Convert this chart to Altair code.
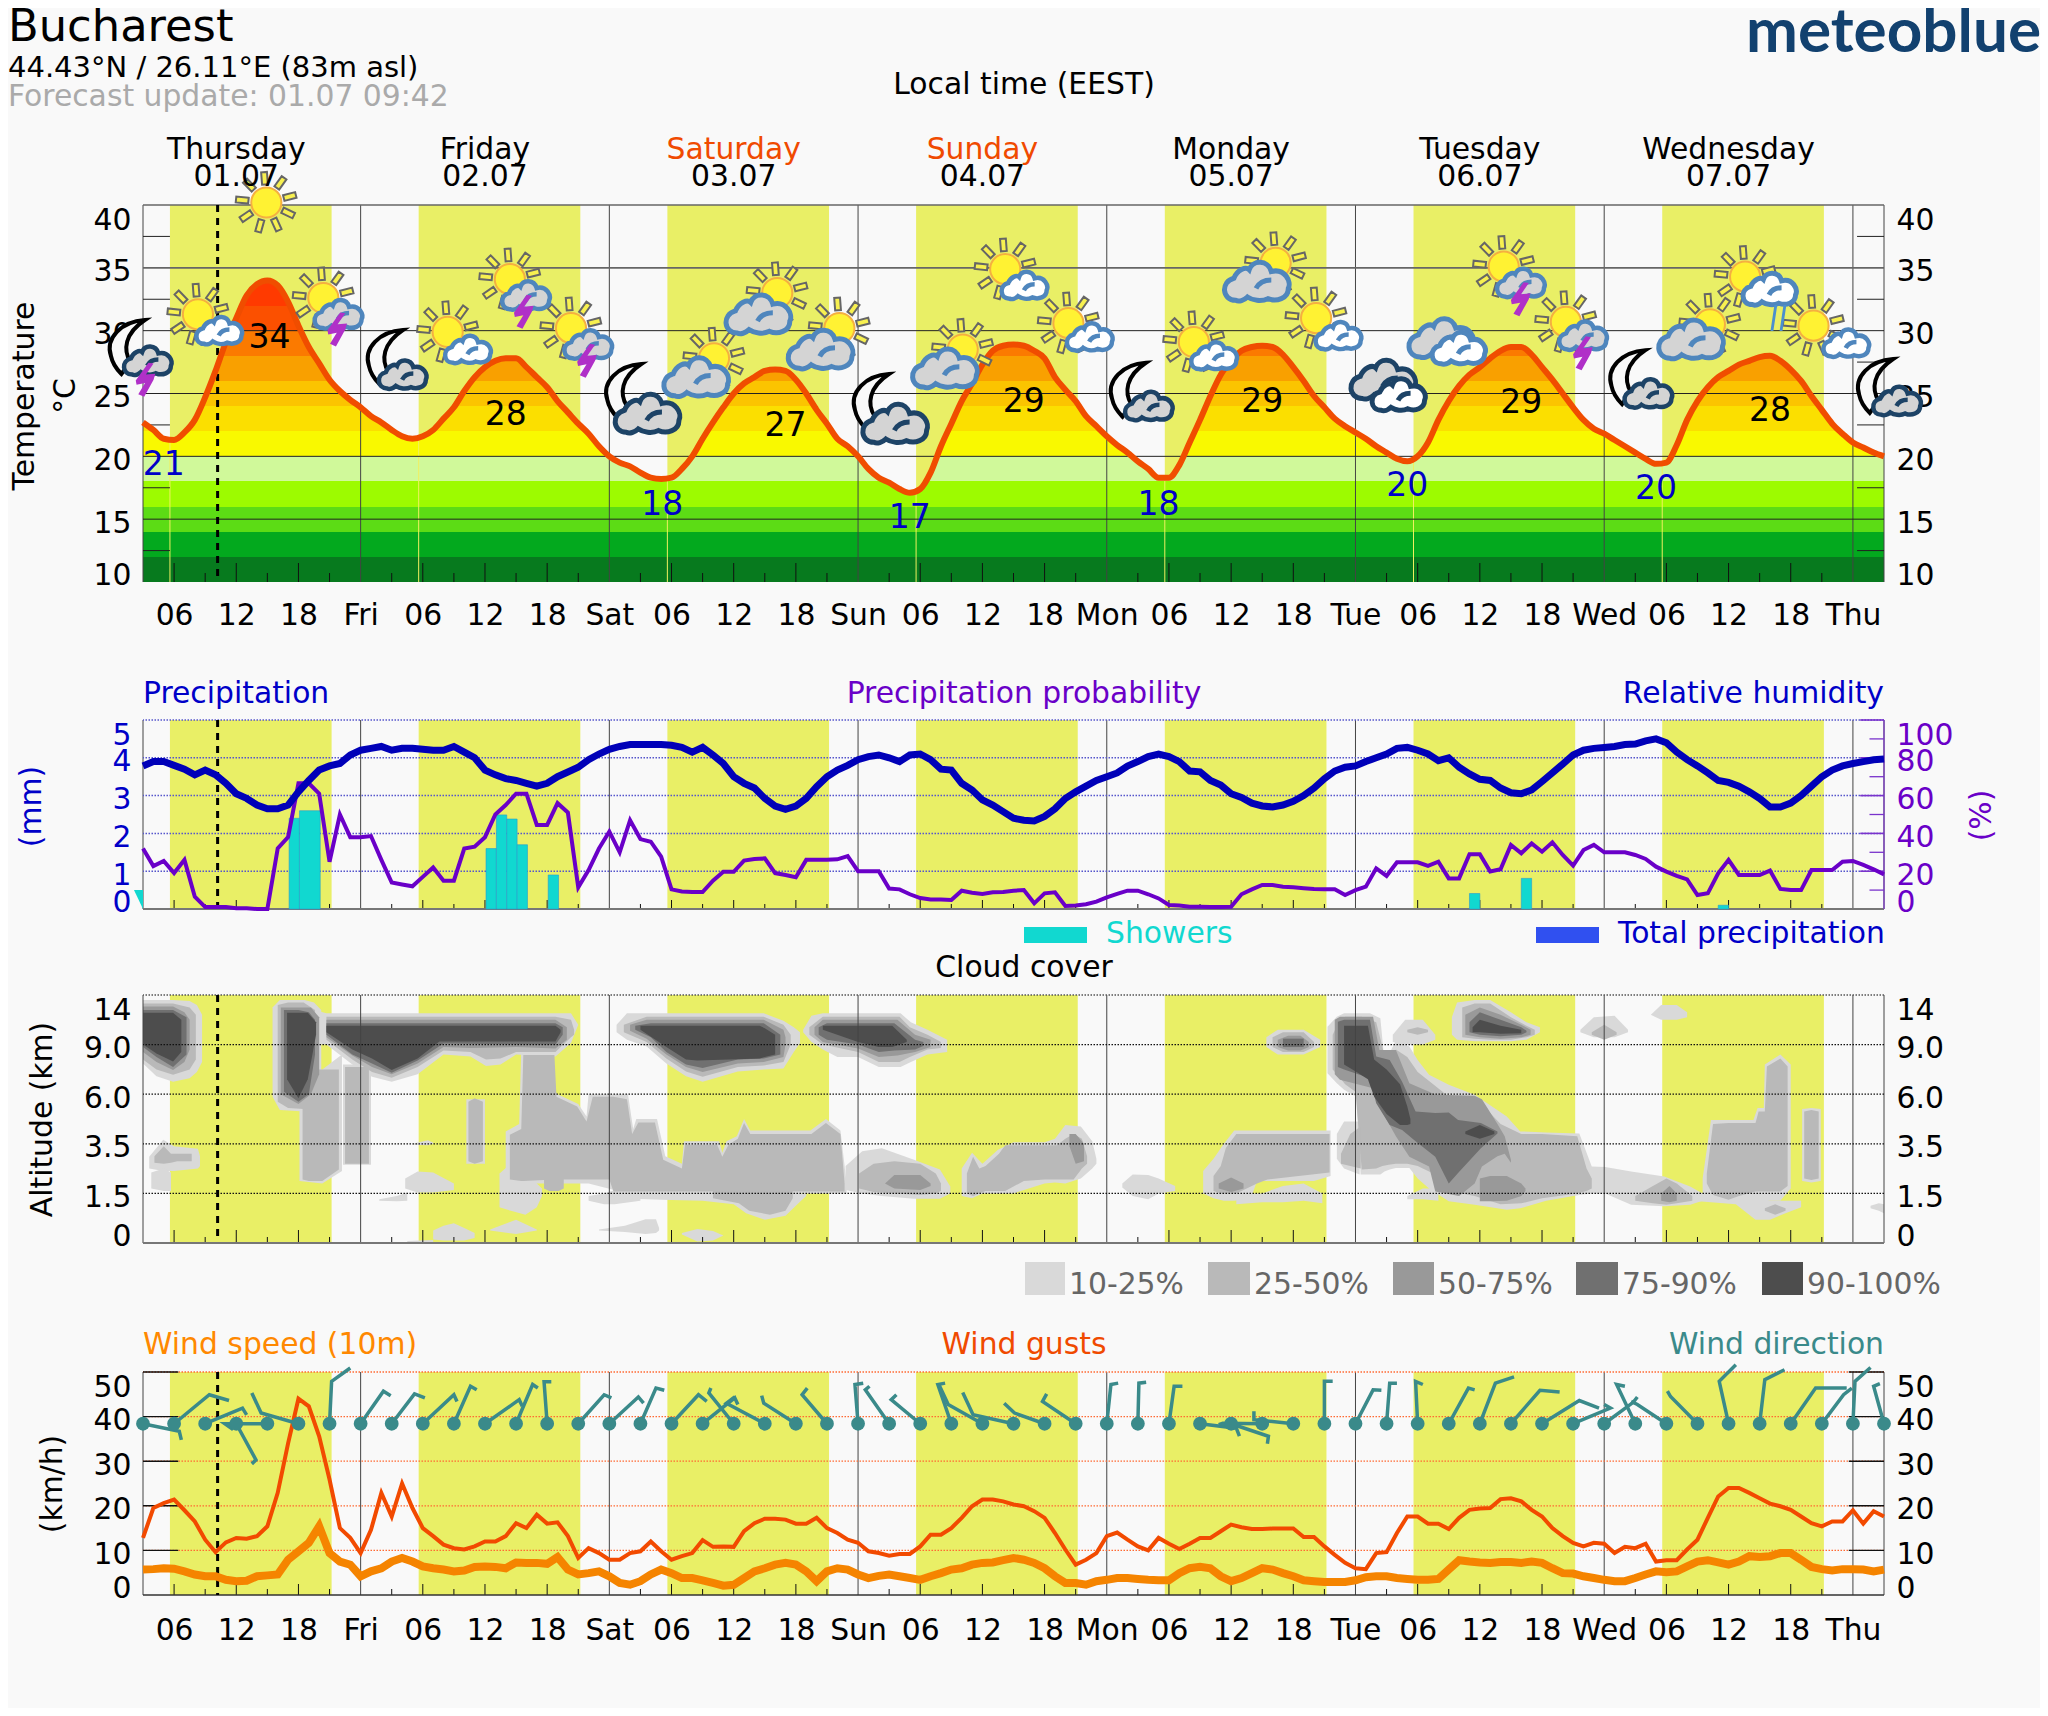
import math
import altair as alt
import pandas as pd

FONT = "DejaVu Sans"
BG = "#f9f9f9"
W = 1741
TS = 29.8
HOURS = list(range(3, 172))

temperature = [
 22.7,22.1,21.4,21.3,21.9,22.9,24.7,26.8,29.1,31,
 32.8,33.7,34,33.6,32.3,30.4,28.7,27.4,26.1,25.2,
 24.5,23.9,23.2,22.7,22.1,21.6,21.4,21.6,22.1,23,
 23.9,25.2,26.3,27.1,27.6,27.8,27.8,27.1,26.3,25.5,
 24.4,23.5,22.6,21.8,20.8,20,19.5,19.2,18.7,18.3,
 18.2,18.3,19,20,21.4,22.7,23.9,25,25.8,26.3,
 26.8,26.9,26.8,26.1,25,23.7,22.6,21.4,20.8,20,
 19,18.3,17.9,17.4,17.1,17.4,18.7,20.8,22.6,24.4,
 25.8,27.3,28.4,28.8,28.9,28.8,28.4,27.8,26.3,25.3,
 24.4,23.2,22.4,21.6,20.9,20.3,19.6,19,18.3,18.3,
 19.3,21.1,22.9,24.8,26.5,27.6,28.4,28.7,28.8,28.7,
 28.1,27.1,26,24.8,23.9,23,22.4,21.9,21.4,20.8,
 20.3,19.8,19.6,20,21.1,22.9,24.4,25.6,26.5,27.1,
 27.8,28.4,28.7,28.7,28.1,27.1,26.1,25,23.9,22.9,
 22.2,21.8,21.3,20.8,20.3,19.8,19.4,19.5,20.9,22.9,
 24.4,25.5,26.3,26.8,27.3,27.6,27.9,28,27.6,26.9,
 26,24.8,23.7,22.6,21.8,21.1,20.7,20.3,20]
humidity = [
 75.7,78,78,76,74,71,73.5,71,66.5,61,
 58.5,55,53,53,55,62,68,73.5,75.7,77,
 81.5,84,85,86,84,85,85,84.5,84,84,
 86,83,80,73.5,71,69,68,66.5,65,66.5,
 70,72.5,75,79,82,84.5,86,87,87,87,
 87,86.6,85.5,83,85.5,81.5,77,70,66.5,64,
 58.5,54.5,52.7,54.5,58.5,64.7,70,73.5,76,79,
 80.6,81.5,80,78,81.5,82,79,74,73.5,66.5,
 63,57.7,55,51.5,48,47,46.6,49,53,58.5,
 62,65,68,70,72,75.6,78,80.6,82,80.6,
 78,73,72.6,68,65.6,61,59,56,54.5,54,
 55,57,60,64,69,73,75,75.7,78,80,
 82,85,85.5,84,82,78.5,80,75,71.5,68.6,
 68,64,61.5,61,63,67.4,72,76.7,81.5,84,
 85,85.5,86,87,87.3,89,90,88,83,79,
 75.7,72,68,67,65,62,58.5,54,54,56,
 60,65,70,73.5,75.7,77,78,79,79.4]
probability = [
 32,22.7,25.4,19,26,6.5,1,1,1,0.4,
 0.4,0,0,32,38,66.5,66.5,61,25,50,
 38,38,38.6,26,14,13,12,17,22,15,
 15,32,33,38,50,55,61,61,44.5,44.5,
 56,51,11.5,20.6,32,41,30,47,37,35.6,
 27.7,10.4,9.3,9,9,15,19.7,19.7,25.6,26.5,
 26.8,19,18,16.8,26,26,26,26.3,28,20,
 20,20,10.8,10.4,7.8,5.8,5,5,4.8,9.7,
 8.6,8,8.8,9,9.7,10,3,8.3,8.8,1.6,
 1.8,2.5,3.9,6.2,8,9.7,9.7,7.8,5.6,2.1,
 1.8,1.2,1.2,1,1,1.2,7.8,10.4,12.7,12.7,
 11.8,11.5,11,10.6,10.4,10.4,7.4,10,11.8,21.5,
 17.5,24.7,24.7,24.7,22.8,25,16.2,16.2,29,29,
 19.8,21,33.9,29.5,34.7,30.3,35.3,28.6,23,31.2,
 33.9,30,30,30,28.6,26.5,22.4,19.8,17.5,15.7,
 7.4,8.3,18.9,26,18,18,18,20.3,10.6,10,
 10,20.6,20.6,20.6,25,25.4,23.3,21,18.3]
gusts = [
 12.8,19.5,20.6,21.4,19,16.5,12.4,9.6,11.8,12.8,
 12.6,13.2,15.4,22.9,34,44,42.3,35.6,25.9,15,
 12.8,9.4,14.6,22.9,17.6,25,19.5,15,13.2,11.3,
 10.5,10.2,10.9,12,12,13.2,16.1,15,18,16,
 16.3,13.2,8.3,10.5,9.4,7.9,7.9,9.4,9.8,12,
 9.8,7.9,8.7,9.4,12.3,10.8,10.9,10.8,14.3,16.1,
 17.1,17.1,16.9,16,16,17.3,15,13.9,12.4,11.7,
 9.8,9.4,8.8,9.2,9.2,10.9,13.5,13.5,15,17.3,
 19.9,21.4,21.4,21,20.3,19.9,18.8,17.3,13.9,10.2,
 6.8,7.9,9.4,13.2,14,12.4,10.9,10,12.8,11.5,
 10.3,11.5,12.8,12.8,14.3,15.8,15.2,14.8,14.8,14.9,
 14.9,14.9,13,13,10.9,9,7.2,6,5.8,9.4,
 9.6,13.9,17.6,17.6,16,16,14.8,17.3,19.1,19.4,
 19.5,21.5,21.7,21,19.1,17.6,15,13.2,11.7,10.9,
 11.7,11.5,9.4,10.8,10.5,11.5,7.5,7.8,7.8,10.2,
 12.4,17.3,22.1,24,24,22.9,21.7,20.5,19.9,19.1,
 17.6,16.1,15.4,16.5,16.5,19,16,18.8,17.6]
speed = [
 5.7,5.8,6,5.9,5.3,4.6,4.2,4.2,3.4,3.1,
 3.2,4.2,4.4,4.6,7.9,9.8,11.7,15.4,9.4,7.5,
 6.8,4.2,5.3,6,7.5,8.3,7.5,6.4,6,5.7,
 5.3,5.5,6.3,6.4,6.3,6,7.3,7.2,7.2,7,
 8.5,5.7,4.6,4.9,5.3,4.2,2.7,2.3,3.1,4.6,
 5.7,4.9,3.8,3.8,3.3,2.7,2.1,2.3,3.8,5.3,
 6,6.8,7.2,6.8,5.3,3.1,5.3,6,5.7,4.6,
 3.8,4.3,4.6,4.2,3.8,3.4,4.2,4.9,5.7,6,
 6.8,7.2,7.3,7.8,8.3,7.9,7.2,6,4.2,2.7,
 2.7,2.3,3.1,3.4,3.8,3.8,3.6,3.4,3.3,3.3,
 4.9,6,6.3,6,4.2,3.1,3.8,4.9,6,5.7,
 4.9,4.2,3.3,3.1,2.9,2.9,2.9,3.3,4,4.2,
 4.2,3.8,3.6,3.4,3.4,3.6,5.7,7.8,7.5,7.3,
 7.2,7.4,7.4,7.2,7.5,7.2,6,4.9,4.8,4.2,
 3.8,3.4,3.1,3.1,3.8,4.6,5.3,5.1,5.3,6.4,
 7.5,7.8,7.3,6.8,7.5,8.7,8.5,8.7,9.4,9.4,
 7.9,6.3,5.8,5.5,5.8,5.8,5.7,5.3,5.7]

# showers: start hour, end hour, mm
shower_start = [17.1,18.1,36.1,37.1,38.1,39.1,42.1,131,136,155]
shower_end   = [18.1,20.1,37.1,38.1,39.1,40.1,43.1,132,137,156]
shower_mm    = [2.4,2.6,1.6,2.49,2.38,1.7,0.9,0.41,0.81,0.1]

day_names = ["Thursday","Friday","Saturday","Sunday","Monday","Tuesday","Wednesday"]
day_dates = ["01.07","02.07","03.07","04.07","05.07","06.07","07.07"]
weekend = ["Saturday","Sunday"]
day_start = [5.6,29.6,53.6,77.6,101.6,125.6,149.6]
day_end = [21.2,45.2,69.2,93.2,117.2,141.2,165.2]
sunrise_temp = [21.3,21.5,18.3,17.2,18.3,19.9,19.5]
midnights = [24,48,72,96,120,144,168]
NOW = 10.2

max_h = [15.2,38,65,88,111,136,160]
max_t = [29.4,23.3,22.4,24.3,24.35,24.25,23.6]
max_lab = ["34","28","27","29","29","29","28"]
min_h = [5,53.1,77,101,125,149]
min_t = [19.3,16.1,15.1,16.1,17.6,17.4]
min_lab = ["21","18","17","18","20","20"]

sun_pos = [(8.3,31.3),(14.9,40.2),(20.4,32.6),(32.4,29.9),(38.4,34.1),(44.3,30.2),(58.1,27.8),(64.2,33),(70.2,30.2),
 (82.1,28.5),(86.2,34.9),(92.3,30.6),(104.4,29.1),(112.3,35.4),(116.2,31),(134.3,35.1),(140.3,30.7),(154.2,30.5),
 (157.6,34.3),(164.2,30.4)]
moon_pos = [(1.5,28.7),(26.4,27.9),(49.4,25.2),(73.3,24.4),(98.1,25.3),(146.3,26.3),(170.2,25.6)]
cloud_storm = [(21.8,31.3),(39.9,32.8),(45.9,28.9),(135.9,33.8),(141.9,29.6)]
cloud_night = [(3.4,27.6),(28,26.5),(100,24),(148.2,25),(172.2,24.4)]
cloud_night_big = [(51.6,23.4),(75.5,22.6),(122.6,26.1)]
cloud_day_big = [(56.3,26.3),(62.3,31.3),(68.3,28.5),(80.3,27),(110.4,33.9),(128.2,29.4),(152.3,29.3)]
cloud_white = [(10.3,30),(34.3,28.5),(88,33.6),(94.3,29.5),(106.3,28),(118.3,29.6),(167.3,29)]
cloud_white_big = [(159.9,33.3),(129.9,28.6)]
cloud_white_dark = [(124.1,24.9)]
bolts = [(3.2,26.1),(21.7,30.1),(39.7,31.5),(45.8,27.6),(135.9,32.5),(141.9,28.2)]
rain = [(160.8,31)]

# wind barbs: origin hour, staff tip (hour, level), feather end (hour, level)
BARB_LEVEL = 38.4
barbs = [
 (3,6.5,36.7,6.7,34.8),(6,9.4,44.9,11.3,43.6),(9,12.6,41.9,13,40.4),(12,13.9,30.3,13.5,29.4),
 (15,10.9,38.4,11.7,37.1),(18,14.4,40.8,13.5,45.3),(21,21.2,47.9,23,50.9),(24,26.2,45.7,26.9,44.7),
 (27,29.2,45.1,30.2,44.2),(30,33,44.9,33.3,43.4),(33,34.6,46.8,35.2,46),(36,39.3,43.8,39.6,42.3),
 (39,40.6,47.2,41.1,46.4),(42,41.7,47.8,42.4,47.8),(45,47.5,44.9,48.2,44.2),(48,50.8,44.4,51.3,43),
 (51,52.5,46.4,53.3,45.9),(54,56.6,44.9,57.4,43.4),(57,60.1,44.2,60.4,42.7),(60,57.6,45.3,57.8,46.4),
 (63,59.3,43,60.1,44.4),(66,62.9,43,62.7,44.7),(69,66.6,44.9,67.1,46.4),(72,71.7,47.2,72.5,47.5),
 (75,72.7,46,73.1,46.8),(78,75.2,43.8,75.7,44.9),(81,79.7,47.2,80.4,47.5),(84,80.7,42.7,79.8,47.2),
 (87,83.1,40.4,82.1,45.4),(90,87.1,40.8,86.1,43),(93,89.8,43.4,90.2,45.1),(96,96.4,47.2,97.1,47.5),
 (99,99.1,47.5,99.8,47.7),(102,102.5,46.8,103.3,46.8),(105,108.5,37.4,108.8,35.6),(108,111.6,35.6,111.5,33.9),
 (111,107.2,38.5,106.8,38.2),(114,110.2,39.3,110.2,41.2),(117,117,47.9,117.8,47.9),(120,121.7,46,122.5,45.9),
 (123,123.3,47.5,124,47.5),(126,125.8,47.9,126.5,47.2),(129,130.9,46.4,131.5,46),(132,133.5,47.5,135.3,48.9),
 (135,137.8,45.9,139.7,45.5),(138,141.6,43.6,143.5,41.9),(141,144.6,41.9,144,42.7),(144,146.8,43.2,147.2,44.4),
 (147,145.2,47.2,146,46.8),(150,147.2,42.7,146.6,43.4),(153,150.4,44.5,150.1,45.7),(156,155.1,47.9,156.7,51.6),
 (159,159.5,48.3,161.4,50.5),(162,164.4,46.4,167.4,46.4),(165,167.1,44.9,167.9,46.4),(168,168.2,47.9,169.7,51),
 (171,170,46.8,170.6,47.4)]

# cloud cover outlines: (hour, upper level, lower level); levels 0..5 are the six axis labels
cloud_10_25 = [
 [(3,4.9,3.62),(4.3,4.9,3.36),(5.9,4.9,3.25),(7.5,4.88,3.32),(8.2,4.8,3.45),(8.7,4.6,3.65)],
 [(15.5,4.75,2.95),(16.2,4.9,2.68),(18.6,4.9,2.65),(19.5,4.85,2.8),(20.2,4.7,3.3)],
 [(18.1,3.5,1.25),(20.3,3.5,1.2),(22.2,3.8,1.45)],
 [(19.5,4.7,4.0),(20.7,4.63,4.0),(23.2,4.63,3.6),(25.1,4.63,3.35),(27,4.63,3.25),(29.5,4.63,3.4),(32,4.63,3.8),(34.6,4.63,3.76),(36.1,4.63,3.57),(37.5,4.63,3.6),(39,4.63,3.8),(42.8,4.63,3.76),(44.3,4.63,4.03),(45,4.4,4.4)],
 [(22.3,3.6,1.58),(25,3.6,1.58)],
 [(3.6,1.74,1.5),(4.95,2.08,1.45),(6,1.95,1.45),(8.3,1.9,1.5),(8.5,1.75,1.55)],
 [(3.8,1.42,1.1),(5,1.5,1.05),(5.7,1.42,1.05)],
 [(28.3,1.3,1.1),(29.5,1.44,1.02),(31,1.42,1.02),(33,1.2,1.07)],
 [(25.8,0.88,0.85),(27.5,0.95,0.84),(28.5,1.02,0.85)],
 [(29,2,1.98),(30.5,2.07,1.97),(31,2.02,2)],
 [(37.4,1.4,0.72),(38.5,1.6,0.65),(39.9,1.5,0.57),(41,1.2,0.72),(41.5,1.1,0.95)],
 [(31,0.25,0.07),(32,0.35,0.05),(33,0.4,0.05),(34,0.3,0.05),(35,0.2,0.1)],
 [(28.5,0.04,0),(31,0.06,0)],
 [(36.5,0.27,0.25),(39,0.47,0.18),(41,0.27,0.25)],
 [(47,0.27,0.25),(49.5,0.35,0.22),(51.5,0.48,0.18),(52.5,0.48,0.2),(52.8,0.3,0.25)],
 [(55,0.2,0.17),(56.5,0.28,0.03),(58,0.24,0.05),(59,0.15,0.15)],
 [(46,0.95,0.85),(47.5,1.0,0.78),(48.5,1.07,0.78),(51,1.1,0.85)],
 [(34.2,2.9,1.6),(36,2.9,1.6)],
 [(38,2.25,1.2),(39.3,2.4,1.2),(39.5,3.9,1.2),(43,3.0,1.2),(45,2.8,1.2),(45.8,2.55,1.2),(46,3.0,1.2),(49.8,3.0,1.0),(50.3,2.3,1.0),(50.6,2.5,1.0),(52.6,2.5,1.0),(53.4,1.75,1.0),(55,1.6,1.0),(55.2,2.05,1.0),(58.6,2.05,1.0),(58.9,1.82,1.0),(59.3,2.05,1.0),(60.3,2.15,1.0),(61,2.5,1.0),(61.6,2.27,1.0),(67.4,2.27,1.0),(68.9,2.5,1.0),(70.3,2.27,1.0),(70.9,1.2,1.0)],
 [(49,1.1,0.9),(53,1.1,0.87),(57,1.1,0.85),(60,1.1,0.78),(61.2,1.1,0.6),(63,1.1,0.47),(65,1.1,0.55),(66.5,1.0,0.85),(67,1,0.95)],
 [(70.8,1.55,1.07),(72.4,1.85,1.0),(74.3,1.91,0.95),(77.4,1.68,0.89),(79.9,1.48,0.89),(80.9,1.14,1.0)],
 [(48.7,4.4,4.25),(49.7,4.63,4.1),(51.6,4.63,3.96),(53.5,4.63,3.62),(55.4,4.63,3.36),(57,4.63,3.25),(60.4,4.63,3.46),(62.9,4.63,3.5),(64.8,4.48,3.52),(65.8,4.35,3.85),(66.4,4.25,4.03)],
 [(66.7,4.3,4.25),(67.5,4.58,4.05),(68.6,4.63,3.9),(70,4.63,3.75),(72,4.63,3.75),(74,4.63,3.55),(76.1,4.63,3.55),(77.1,4.45,3.65),(78.7,4.3,3.8),(80.6,4.1,3.85)],
 [(82,1.5,0.95),(83,1.82,0.9),(84,1.6,1.0),(85.5,1.88,1.0),(87,2.03,1.0),(90,2.03,1.2),(91,2.1,1.22),(92,2.38,1.2),(93.5,2.35,1.3),(94.6,2.05,1.5),(95,1.7,1.6)],
 [(105.3,1.45,1.0),(106.3,1.7,0.9),(107.3,2.0,0.85),(108.3,2.27,0.85),(109.9,2.27,0.9),(110.5,2.27,1.25),(116,2.27,1.25),(117.6,2.27,1.35)],
 [(108.5,1.0,0.78),(111,1.0,0.82),(113,1.15,0.82),(115,1.2,0.85),(116.8,1.0,0.8)],
 [(97.5,1.2,1.12),(98.5,1.38,0.95),(100,1.37,0.88),(101,1.3,1.0),(102.6,1.15,1.05)],
 [(111.4,4.15,3.95),(112.5,4.3,3.8),(115,4.3,3.8),(116.6,4.1,3.95)],
 [(117.3,4.36,3.42),(118.2,4.56,3.22),(118.9,4.63,3.09),(120.1,4.63,2.95),(120.5,4.63,1.38),(121.4,4.63,1.38),(122.4,4.53,1.38),(122.8,3.66,1.44),(123.3,3.83,1.48),(123.9,4.09,1.51),(125.2,3.96,1.51),(126,3.69,1.3),(127.1,3.39,1.1),(129,3.19,0.84),(131.5,2.99,0.77),(134.6,2.55,0.67),(135.9,2.25,0.7),(138.4,2.23,0.85),(141.6,2.21,0.97),(142.8,1.54,1.0),(144.1,1.53,1.0),(146.6,1.44,0.77),(149.8,1.34,0.74),(152.3,1.14,0.77),(153.5,1.0,0.85),(156.7,0.95,0.85)],
 [(118.2,2.2,1.7),(118.9,2.45,1.5),(120.4,2.45,1.38)],
 [(125,0.95,0.88),(126.5,1.1,0.88),(128,1.1,0.85)],
 [(123.6,4.2,4.05),(124.8,4.5,4.0),(126.5,4.5,4.0),(127.7,4.2,4.1)],
 [(129.3,4.55,4.2),(129.8,4.85,4.1),(131.5,4.9,4.07),(133,4.9,4.07),(135,4.65,4.07),(136.5,4.45,4.1),(137.8,4.35,4.25)],
 [(141.7,4.3,4.25),(143,4.55,4.15),(145,4.58,4.15),(146.3,4.3,4.25)],
 [(148.5,4.6,4.6),(149.5,4.8,4.5),(151,4.8,4.5),(152,4.65,4.55)],
 [(153.5,1.3,1.0),(154.3,2.48,0.95),(158.4,2.48,0.9),(158.8,2.72,0.9),(159.4,2.72,0.85),(159.5,3.6,0.85),(161,3.8,0.85),(162,3.6,1.1)],
 [(152.5,1.0,0.85),(156.7,1.0,0.78),(158.6,0.95,0.47),(160,0.85,0.47),(161.5,0.85,0.6),(163,0.85,0.72)],
 [(163.1,2.7,1.25),(164,2.72,1.22),(164.9,2.7,1.25)],
 [(169.7,0.75,0.7),(170.5,0.8,0.65),(171,0.78,0.6)],
]
cloud_25_50 = [
 [(3,4.83,3.7),(4.3,4.83,3.5),(5.9,4.83,3.39),(7.5,4.75,3.5),(8.1,4.6,3.7)],
 [(16,4.8,2.85),(17,4.85,2.72),(18.5,4.85,2.7),(19.6,4.7,3.2)],
 [(18.4,3.5,1.28),(19,3.5,1.25),(20.3,3.5,1.25),(21.9,3.5,1.48)],
 [(20.7,4.56,4.1),(23.2,4.56,3.7),(25.1,4.56,3.45),(27,4.56,3.33),(29.5,4.56,3.55),(32,4.56,3.88),(34.6,4.56,3.85),(36.1,4.56,3.7),(37.5,4.56,3.72),(39,4.56,3.85),(42.8,4.56,3.85),(44.3,4.5,4.15),(44.6,4.3,4.2)],
 [(22.5,3.55,1.6),(24.8,3.55,1.6)],
 [(4.1,1.75,1.62),(5,1.95,1.6),(5.7,1.8,1.62),(6.3,1.8,1.65),(7.7,1.8,1.65)],
 [(34.4,2.85,1.65),(35,2.92,1.6),(35.8,2.85,1.65)],
 [(38.4,2.18,1.28),(39.5,2.3,1.25),(39.7,3.79,1.25),(42.7,3.79,1.28),(42.9,2.95,1.28),(44.9,2.75,1.28),(45.8,2.45,1.28),(46.4,2.95,1.28),(48,2.95,1.28),(48.4,2.95,1.04),(49.7,2.9,1.04),(50.2,2.2,1.04),(50.8,2.43,1.04),(52.4,2.43,1.04),(53.2,1.68,1.04),(55,1.5,1.04),(55.3,1.98,1.04),(58.4,1.98,1.04),(58.9,1.74,1.04),(59.5,1.98,1.04),(60.4,2.1,1.04),(61,2.42,1.04),(61.6,2.2,1.04),(67.5,2.2,1.04),(68.9,2.42,1.04),(70.3,2.2,1.04),(70.7,1.2,1.04)],
 [(41.7,1.3,1.1),(42.2,1.3,1.05),(43.1,1.3,1.05),(43.6,1.3,1.1)],
 [(58,1.1,0.9),(60.5,1.1,0.8),(61.5,1.1,0.65),(63.5,1.1,0.57),(65,1.1,0.65),(65.7,1.1,0.9)],
 [(72.1,1.4,1.1),(73.5,1.6,1.03),(75.5,1.65,1.0),(78,1.6,0.97),(79.5,1.4,1.0),(80,1.2,1.05)],
 [(49.4,4.4,4.25),(51.6,4.56,4.05),(53.5,4.56,3.72),(55.4,4.56,3.46),(57,4.56,3.35),(60.4,4.56,3.55),(62.9,4.56,3.58),(64.8,4.4,3.65),(65.5,4.2,4.0)],
 [(67.3,4.35,4.2),(68.6,4.56,4.0),(72,4.56,3.85),(74,4.56,3.65),(76,4.56,3.65),(77,4.35,3.75),(78.7,4.2,3.9),(80,4.05,3.93)],
 [(82.5,1.4,1.0),(83.1,1.74,0.95),(83.7,1.5,1.0),(84.3,1.55,1.05),(85.6,1.8,1.05),(86.2,1.97,1.05),(88,1.97,1.25),(90,1.97,1.28),(91.2,1.97,1.28),(92,2.1,1.28),(92.8,2.2,1.28),(93.6,2.1,1.5),(94.1,1.75,1.6)],
 [(106.3,1.35,1.05),(107,1.55,1.0),(107.5,1.92,1.0),(108.5,2.2,1.0),(110.5,2.2,1.2),(111.5,2.2,1.28),(117.5,2.2,1.42)],
 [(112,4.15,3.95),(113,4.25,3.85),(115,4.25,3.85),(116,4.05,3.95)],
 [(117.8,4.2,3.5),(118.5,4.5,3.33),(119,4.56,3.2),(120,4.56,3.05),(120.6,4.56,1.48),(122,4.45,1.5),(122.6,3.95,1.55),(123.2,3.4,1.58),(123.9,3.9,1.6),(125,3.75,1.6),(126,3.45,1.55),(127.5,3.2,1.4),(129,2.95,1.05),(131.5,2.95,0.95),(134,2.4,0.78),(136,2.2,0.8),(138,2.2,0.9),(141.4,2.15,1.0),(142.3,1.5,1.05),(142.8,1.3,1.1)],
 [(118.6,1.8,1.6),(119.5,2.2,1.55),(120.5,2.35,1.5)],
 [(125,4.3,4.25),(126,4.35,4.2),(127,4.3,4.25)],
 [(130.3,4.75,4.15),(131.5,4.83,4.12),(133,4.83,4.1),(135,4.55,4.1),(136.5,4.38,4.15),(137.3,4.3,4.2)],
 [(142.8,4.25,4.2),(144,4.4,4.1),(145.2,4.25,4.2)],
 [(147,0.95,0.85),(148.7,1.15,0.8),(150,1.3,0.77),(151,1.2,0.8),(152.5,0.95,0.85)],
 [(153.9,1.4,1.2),(154.5,2.4,0.97),(156,2.42,0.87),(157,2.42,0.95),(158.6,2.42,1.04),(158.9,2.65,1.04),(159.5,2.65,1.04),(159.7,3.56,1.04),(161,3.72,1.04),(161.7,3.56,1.15)],
 [(159.5,0.7,0.65),(160.5,0.78,0.57),(161.5,0.7,0.65)],
 [(163.3,2.65,1.3),(164,2.68,1.27),(164.7,2.65,1.3)],
]
cloud_50_75 = [
 [(3,4.77,3.85),(4.3,4.77,3.65),(5.9,4.77,3.49),(7,4.65,3.65),(7.5,4.5,3.9)],
 [(16.3,4.75,3.0),(18,4.75,2.8),(19.2,4.75,3.0),(20,4.55,3.4)],
 [(20.7,4.5,4.15),(23.2,4.5,3.78),(25.1,4.5,3.55),(27,4.5,3.4),(29.5,4.5,3.62),(32,4.5,3.95),(34.6,4.5,3.93),(39,4.5,3.95),(42.8,4.5,3.92),(43.9,4.35,4.1)],
 [(74.6,1.2,1.2),(75.5,1.37,1.1),(78,1.37,1.07),(79,1.2,1.15)],
 [(50,4.4,4.28),(51.6,4.5,4.12),(53.5,4.5,3.8),(55.4,4.5,3.55),(57,4.5,3.45),(60.4,4.5,3.62),(62.9,4.5,3.65),(64.8,4.3,3.75),(65,4.15,4.0)],
 [(67.8,4.35,4.2),(68.6,4.5,4.05),(72,4.5,3.92),(74,4.5,3.75),(75.8,4.5,3.78),(77.5,4.2,3.85),(79,4.1,3.95)],
 [(92.4,2.2,1.95),(93,2.2,1.6),(93.8,2.0,1.65)],
 [(106.8,1.2,1.1),(108,1.32,1.03),(109.2,1.2,1.1)],
 [(112.5,4.1,3.95),(113.5,4.18,3.88),(114.7,4.18,3.88),(115.5,4.05,3.95)],
 [(118,4.5,3.4),(118.5,4.56,3.29),(121.7,4.56,3.12),(122.3,3.89,2.75),(123.9,3.89,2.15),(125.2,3.22,1.74),(127.1,3.05,1.54),(127.7,2.99,1.04),(130,2.98,0.95),(131.5,2.97,1.2),(132.2,2.9,1.54),(133.7,2.4,1.75),(134.4,2.15,1.8),(135,1.68,1.62)],
 [(132,1.3,0.84),(133,1.35,0.84),(134.6,1.35,0.85),(136,1.2,0.95),(136.4,1.1,1.05)],
 [(130.6,4.6,4.2),(132,4.75,4.15),(134,4.6,4.12),(136,4.4,4.15),(136.9,4.3,4.2)],
 [(149.5,1.0,0.85),(150.3,1.15,0.82),(151,1.0,0.85)],
]
cloud_75_90 = [
 [(3,4.7,3.95),(4.3,4.7,3.75),(5.9,4.7,3.55),(7.2,4.55,3.8)],
 [(16.6,4.7,3.05),(18,4.7,2.85),(19,4.65,3.0),(19.6,4.5,3.8)],
 [(20.7,4.43,4.2),(23.2,4.43,3.8),(25.1,4.43,3.62),(27,4.43,3.43),(29.5,4.43,3.68),(32,4.43,4.02),(42.8,4.43,4.0),(43.5,4.35,4.2)],
 [(50.5,4.38,4.3),(52,4.43,4.15),(53.5,4.43,3.85),(55.4,4.43,3.6),(57,4.43,3.53),(60.4,4.43,3.7),(62.9,4.43,3.72),(64.5,4.2,3.8)],
 [(68.2,4.35,4.2),(69,4.43,4.1),(72,4.43,4.0),(74,4.43,3.85),(75.5,4.43,3.88),(77.5,4.1,3.9),(78.3,4.05,3.97)],
 [(113,4.12,3.95),(115,4.12,3.95)],
 [(118.3,4.46,3.55),(118.9,4.5,3.5),(121.4,4.5,3.32),(122,3.76,2.82),(123.3,3.69,2.38),(124.5,3.25,2.28),(125.8,2.65,2.05),(127.7,2.62,1.74),(129,2.63,1.2),(129.9,2.48,1.41),(132.1,2.42,1.91),(133.7,2.25,2.21)],
 [(131,4.45,4.25),(132,4.65,4.2),(134,4.5,4.17),(136,4.35,4.2),(136.5,4.28,4.25)],
]
cloud_90_100 = [
 [(3,4.64,4.0),(4.3,4.64,3.82),(5.9,4.64,3.66),(6.7,4.5,3.85)],
 [(16.9,4.64,3.3),(18,4.64,2.92),(18.9,4.64,3.3),(19.7,4.45,4.2)],
 [(20.7,4.38,4.25),(23.2,4.38,3.9),(25.1,4.38,3.72),(27,4.38,3.49),(29.5,4.38,3.72),(31.6,4.38,4.06),(42.8,4.38,4.06),(43.3,4.3,4.25)],
 [(51,4.38,4.3),(53.5,4.38,3.95),(55.4,4.38,3.7),(56.5,4.38,3.68),(62.5,4.38,3.72),(63,4.33,3.75),(64,4.2,3.8)],
 [(68.6,4.38,4.3),(72,4.38,4.05),(74,4.38,3.95),(75.3,4.38,3.95),(76.7,4.1,4.05)],
 [(118.9,4.38,3.6),(120.1,4.38,3.45),(121.2,4.38,3.3),(121.8,3.7,2.95),(123,3.5,2.6),(124.3,3.2,2.38),(125,2.75,2.38),(125.3,2.5,2.4)],
 [(130.6,2.25,2.2),(132,2.38,2.1),(133.4,2.25,2.2)],
 [(131.3,4.35,4.25),(132,4.5,4.25),(134,4.38,4.22),(136,4.3,4.23)],
]
cloud_levels = [cloud_10_25, cloud_25_50, cloud_50_75, cloud_75_90, cloud_90_100]
cloud_colors = ["#d9d9d9","#b9b9b9","#999999","#707070","#4d4d4d"]
cloud_names = ["10-25%","25-50%","50-75%","75-90%","90-100%"]

temp_bands = [(34,32,"#ff3a00"),(32,30,"#fb5000"),(30,28,"#fb7a00"),(28,26,"#f9a000"),(26,24,"#fbc400"),
 (24,22,"#fbdf00"),(22,20,"#f9f900"),(20,18,"#d0f99a"),(18,16,"#9dfb00"),(16,14,"#5cdc15"),(14,12,"#03a91e"),(12,10,"#077a1e")]

# ---------------------------------------------------------------- helpers
ORIG_TEMP=(143,205); ORIG_S1=(143,582); ORIG_PREC=(143,720); ORIG_S2=(143,909)
ORIG_CLOUD=(143,995); ORIG_S3=(143,1243); ORIG_WIND=(143,1372)
one = pd.DataFrame({"a":[0]})
XS = alt.Scale(domain=[3,171], nice=False, zero=False)
LABEL_EXPR = ("datum.value % 24 == 0 ? ['Thu','Fri','Sat','Sun','Mon','Tue','Wed','Thu'][datum.value/24] : "
              "(datum.value % 24 == 6 ? '06' : format(datum.value % 24,'d'))")
def make_x_axis(pad):
    return alt.Axis(orient="bottom", values=list(range(6,169,6)), labelExpr=LABEL_EXPR, domain=False, ticks=False, grid=False,
        labelFontSize=TS, labelFont=FONT, labelColor="black", labelPadding=pad, labelOverlap=False, labelFlush=False, labelBound=False,
        labelAngle=0)
CUR_AXIS = None
def X(f="h"): return alt.X(f"{f}:Q", scale=XS, axis=CUR_AXIS, title=None)
def Y(f, dom, axis=None):
    return alt.Y(f"{f}:Q", scale=alt.Scale(domain=dom, nice=False, zero=False), axis=axis, title=None)

def label(text, px, py, origin, size=TS, color="black", align="left", weight="normal", font=FONT, angle=0):
    return alt.Chart(one).mark_text(text=text, fontSize=size, color=color, align=align, fontWeight=weight,
        font=font, baseline="alphabetic", angle=angle).encode(x=alt.value(px-origin[0]), y=alt.value(py-origin[1]))

def box(x0,x1,y0,y1,origin,color):
    return alt.Chart(one).mark_rect(color=color).encode(x=alt.value(x0-origin[0]), x2=alt.value(x1-origin[0]),
        y=alt.value(y0-origin[1]), y2=alt.value(y1-origin[1]))

def yaxis(orient, values, color="black", expr=None, **kw):
    d = dict(orient=orient, values=values, domain=False, ticks=False, grid=False, labelFlush=True, labelFlushOffset=4, labelOffset=4,
        labelPadding=12, labelFontSize=TS, labelFont=FONT, labelColor=color, labelOverlap=False, labelBound=False,
        titleFont=FONT, titleFontSize=TS, titleFontWeight="normal", titleColor=color)
    if expr: d["labelExpr"]=expr
    d.update(kw)
    return alt.Axis(**d)

def hgrid(values, dom, **mark):
    return alt.Chart(pd.DataFrame({"v":values})).mark_rule(**mark).encode(y=Y("v",dom))

def axis_layer(dom, axis):
    return alt.Chart(pd.DataFrame({"v":dom})).mark_rule(opacity=0).encode(y=Y("v",dom,axis))

bands_df = pd.DataFrame({"h":day_start,"h2":day_end})
nights_df = pd.DataFrame({"h":midnights})
def day_bands():
    return alt.Chart(bands_df).mark_rect(color="#e9ef66").encode(x=X(), x2="h2:Q")
def midnight_lines():
    return alt.Chart(nights_df).mark_rule(color="#444444", strokeWidth=1).encode(x=X())
def edges():
    return alt.Chart(pd.DataFrame({"h":[3,171]})).mark_rule(color="#444444", strokeWidth=1).encode(x=X())
def hour_ticks(H, long_len, short_len):
    long_h = [h for h in range(6,171,6) if h%24]
    short_h = [h for h in range(9,171,6)]
    return [
      alt.Chart(pd.DataFrame({"h":long_h})).mark_rule(color="#111111", strokeWidth=1).encode(x=X(), y=alt.value(H), y2=alt.value(H-long_len)),
      alt.Chart(pd.DataFrame({"h":short_h})).mark_rule(color="#111111", strokeWidth=1).encode(x=X(), y=alt.value(H), y2=alt.value(H-short_len)),
    ]
def now_line(H, end=0):
    return alt.Chart(pd.DataFrame({"h":[NOW]})).mark_rule(color="black", strokeWidth=3, strokeDash=[7,6]).encode(
        x=X(), y=alt.value(0), y2=alt.value(H-end))
def series(values, name):
    return pd.DataFrame({"h":HOURS, name:values})

# ---------------------------------------------------------------- icon paths (unit square)
def sun_rays(n=9):
    parts=[]
    for i in range(n):
        a=2*math.pi*i/n-0.25
        c,s=math.cos(a),math.sin(a)
        r0,r1,w=0.62,1.05,0.1
        pts=[(r0*c-w*s,r0*s+w*c),(r1*c-w*s,r1*s+w*c),(r1*c+w*s,r1*s-w*c),(r0*c+w*s,r0*s-w*c)]
        parts.append("M"+"L".join(f"{x:.3f},{y:.3f}" for x,y in pts)+"Z")
    return "".join(parts)
DISC = "M0.52,0A0.52,0.52 0 1,1 -0.52,0A0.52,0.52 0 1,1 0.52,0Z"
MOON = "M0.58,-0.9C-0.2,-0.85 -0.75,-0.3 -0.55,0.3C-0.5,0.55 -0.35,0.75 -0.2,0.9L0.1,0.5C-0.15,0.1 -0.1,-0.45 0.58,-0.9Z"
CLOUD = ("M-0.6,0.55C-1.0,0.55 -1.05,0.0 -0.65,-0.1C-0.55,-0.35 -0.3,-0.45 -0.2,-0.35C-0.1,-0.65 0.35,-0.65 0.45,-0.3"
         "C0.85,-0.4 1.05,0 0.95,0.2C0.95,0.5 0.6,0.6 0.35,0.5C0.15,0.6 -0.1,0.55 -0.25,0.45C-0.35,0.55 -0.5,0.6 -0.6,0.55Z"
         "M0.0,0.2C0.1,0 0.3,-0.05 0.45,-0.05")
BOLT = "M0.2,-1L0.5,-0.95L0.05,-0.3L0.6,-0.35L0.5,0L-0.05,1L-0.4,0.85L0,0.2L-0.5,0.3L-0.55,0.05Z"
RAIN = "M-0.3,-1L-0.6,1L-0.38,1L-0.08,-1ZM0.4,-1L0.1,1L0.32,1L0.62,-1Z"
CLOUD_BLUE = "#4f86bd"
CLOUD_DARK = "#1d4366"
CLOUD_GREY = "#d4d4d4"

def icons(pos, path, R, fill, stroke="#000000", width=0):
    df = pd.DataFrame(pos, columns=["h","t"])
    kw = dict(shape=path, size=4*R*R, filled=True, fill=fill, opacity=1)
    if width: kw.update(stroke=stroke, strokeWidth=width)
    else: kw.update(strokeWidth=0)
    return alt.Chart(df).mark_point(**kw).encode(x=X(), y=Y("t",[10,40]))

# ---------------------------------------------------------------- temperature panel
CUR_AXIS = make_x_axis(18)
TH=377
T_DOM=[10,40]
stops=[]
for hi,lo,c in temp_bands:
    stops.append(alt.GradientStop(color=c, offset=(34-hi)/24))
    stops.append(alt.GradientStop(color=c, offset=(34-lo)/24))
grad = alt.LinearGradient(gradient="linear", stops=stops, x1=0, x2=0, y1=0, y2=1)
temp_df = series(temperature,"t")
sunrise_df = pd.DataFrame({"h":day_start,"t":sunrise_temp,"b":[10]*7})

temp_layers = [
    day_bands(),
    alt.Chart(temp_df).mark_area(color=grad, orient="vertical", interpolate="monotone").encode(x=X(), y=Y("t",T_DOM), y2=alt.Y2(datum=10)),
    alt.Chart(sunrise_df).mark_rule(color="#f0f060", strokeWidth=1).encode(x=X(), y=Y("t",T_DOM), y2="b:Q"),
    edges(), midnight_lines(),
    hgrid([15,20,25,30],T_DOM,color="#222222",strokeWidth=1),
    hgrid([35,40],T_DOM,color="#666666",strokeWidth=1.6),
    *[alt.Chart(pd.DataFrame({"v":[12.5,17.5,22.5,27.5,32.5,37.5],"a":[s]*6,"b":[e]*6})).mark_rule(color="#222222",strokeWidth=1).encode(
        x=X("a"), x2="b:Q", y=Y("v",T_DOM)) for s,e in [(3,5.6),(168.4,171)]],
    *hour_ticks(TH,19,9),
    now_line(TH),
    axis_layer(T_DOM, yaxis("left",[10,15,20,25,30,35,40], title=["Temperature","°C"], titleLineHeight=41, titleX=-119, titleY=TH/2+2, titleBaseline="middle", titleAlign="center")),
    axis_layer(T_DOM, yaxis("right",[10,15,20,25,30,35,40])),
    alt.Chart(temp_df).mark_line(color="#f04d00", strokeWidth=6, interpolate="monotone").encode(x=X(), y=Y("t",T_DOM)),
    alt.Chart(pd.DataFrame({"h":max_h,"t":max_t,"s":max_lab})).mark_text(fontSize=33,font=FONT,color="black").encode(x=X(),y=Y("t",T_DOM),text="s:N"),
    alt.Chart(pd.DataFrame({"h":min_h,"t":min_t,"s":min_lab})).mark_text(fontSize=33,font=FONT,color="#0000c8").encode(x=X(),y=Y("t",T_DOM),text="s:N"),
    icons(sun_pos, sun_rays(), 29, "#f7f050", "#666666", 2),
    icons(sun_pos, DISC, 29, "#fff233", "#f5b040", 2),
    icons(moon_pos, MOON, 30, "#f9f9f9", "#000000", 4),
    icons(cloud_storm, CLOUD, 25, CLOUD_GREY, CLOUD_BLUE, 4.5),
    icons(cloud_night, CLOUD, 25, CLOUD_GREY, CLOUD_DARK, 4.5),
    icons(cloud_night_big, CLOUD, 34, CLOUD_GREY, CLOUD_DARK, 5),
    icons(cloud_day_big, CLOUD, 34, CLOUD_GREY, CLOUD_BLUE, 5),
    icons(cloud_white, CLOUD, 24, "#ffffff", CLOUD_BLUE, 4.5),
    icons(cloud_white_big, CLOUD, 28, "#ffffff", CLOUD_BLUE, 5),
    icons(cloud_white_dark, CLOUD, 28, "#ffffff", CLOUD_DARK, 5),
    icons(bolts, BOLT, 17, "#b030c8"),
    icons(rain, RAIN, 13, "#4a8fcf"),
    label("Bucharest",8,41,ORIG_TEMP,size=44.8),
    label("44.43°N / 26.11°E (83m asl)",8,77,ORIG_TEMP,size=29),
    label("Forecast update: 01.07 09:42",8,106,ORIG_TEMP,color="#aaaaaa"),
    label("Local time (EEST)",1024,94,ORIG_TEMP,align="center"),
    label("meteoblue",2041,52,ORIG_TEMP,size=62,color="#12416f",align="right",weight="bold",font="Lato"),
]
for i,(n,d) in enumerate(zip(day_names,day_dates)):
    h=12+24*i
    c="#f04a00" if n in weekend else "black"
    temp_layers.append(alt.Chart(pd.DataFrame({"h":[h],"s":[n]})).mark_text(fontSize=TS,font=FONT,color=c,baseline="alphabetic").encode(x=X(),y=alt.value(159-205),text="s:N"))
    temp_layers.append(alt.Chart(pd.DataFrame({"h":[h],"s":[d]})).mark_text(fontSize=TS,font=FONT,color="black",baseline="alphabetic").encode(x=X(),y=alt.value(186-205),text="s:N"))
temp_panel = alt.layer(*temp_layers).resolve_scale(y="independent").properties(width=W,height=TH)

# ---------------------------------------------------------------- titles between the panels
s1 = alt.layer(
    label("Precipitation",143,703,ORIG_S1,color="#0000c8"),
    label("Precipitation probability",1024,703,ORIG_S1,color="#6a00c8",align="center"),
    label("Relative humidity",1884,703,ORIG_S1,color="#0000c8",align="right"),
).properties(width=W,height=138)

# ---------------------------------------------------------------- precipitation panel
CUR_AXIS = None
PH=189
M_DOM=[0,5]; P_DOM=[0,100]
sh_df=pd.DataFrame({"h":shower_start,"h2":shower_end,"v":shower_mm,"b":[0]*len(shower_mm)})
tri_df=pd.DataFrame({"h":[2.13,3],"v":[0.5,0.5],"b":[0.5,0]})
prec_panel = alt.layer(
    day_bands(), edges(), midnight_lines(),
    hgrid([1,2,3,4,5],M_DOM,color="#5555cc",strokeWidth=1.5,strokeDash=[1.5,1.5]),
    *hour_ticks(PH,9,5),
    hgrid([0],M_DOM,color="#777777",strokeWidth=2.2),
    now_line(PH),
    alt.Chart(sh_df).mark_rect(color="#11d8d0",stroke="#2a9ad0",strokeWidth=0.6).encode(x=X(),x2="h2:Q",y=Y("v",M_DOM),y2="b:Q"),
    alt.Chart(tri_df).mark_area(color="#11d8d0",orient="vertical").encode(x=X(),y=Y("v",M_DOM),y2="b:Q"),
    alt.Chart(pd.DataFrame({"v":[20,40,60,80,100],"a":[168.7]*5,"b":[171]*5})).mark_rule(color="#7a33cc",strokeWidth=1.6).encode(x=X("a"),x2="b:Q",y=Y("v",P_DOM)),
    alt.Chart(pd.DataFrame({"v":[10,30,50,70,90],"a":[169.6]*5,"b":[171]*5})).mark_rule(color="#7a33cc",strokeWidth=1.3).encode(x=X("a"),x2="b:Q",y=Y("v",P_DOM)),
    alt.Chart(pd.DataFrame({"h":[171]})).mark_rule(color="#7a33cc",strokeWidth=1.2).encode(x=X()),
    axis_layer(M_DOM, yaxis("left",[0,1,2,3,4,5],"#0000c8",title="(mm)",titleX=-112,titleY=86,titleBaseline="middle",titleAlign="center")),
    axis_layer(P_DOM, yaxis("right",[0,20,40,60,80,100],"#6a00c8",title="(%)",titleX=97,titleY=95,titleAngle=270,titleBaseline="middle",titleAlign="center")),
    alt.Chart(series(probability,"v")).mark_line(color="#6a00c8",strokeWidth=4).encode(x=X(),y=Y("v",P_DOM)),
    alt.Chart(series(humidity,"v")).mark_line(color="#0000b8",strokeWidth=7).encode(x=X(),y=Y("v",P_DOM)),
).resolve_scale(y="independent").properties(width=W,height=PH)

s2 = alt.layer(
    box(1024,1087,927,943,ORIG_S2,"#11d8d0"),
    label("Showers",1106,943,ORIG_S2,color="#11d8d0"),
    box(1536,1599,927,943,ORIG_S2,"#3050f0"),
    label("Total precipitation",1618,943,ORIG_S2,color="#0000c8"),
    label("Cloud cover",1024,977,ORIG_S2,align="center"),
).properties(width=W,height=86)

# ---------------------------------------------------------------- cloud panel
CH=248
C_DOM=[0,5]
cloud_expr = "['0','1.5','3.5','6.0','9.0','14'][datum.value]"
def cloud_df(level):
    rows=[]
    for i,blob in enumerate(level):
        for h,t,b in blob:
            rows.append({"id":i,"h":h,"t":t,"b":b})
    return pd.DataFrame(rows)
cloud_layers=[day_bands()]
for lev,col in zip(cloud_levels,cloud_colors):
    cloud_layers.append(alt.Chart(cloud_df(lev)).mark_area(color=col,orient="vertical").encode(x=X(),y=Y("t",C_DOM),y2="b:Q",detail="id:N"))
cloud_panel = alt.layer(
    *cloud_layers, edges(), midnight_lines(),
    hgrid([1,2,3,4],C_DOM,color="#111111",strokeWidth=1.3,strokeDash=[1.5,1.5]),
    hgrid([5],C_DOM,color="#555555",strokeWidth=1.6,strokeDash=[1.5,1.5]),
    *hour_ticks(CH,13,6),
    hgrid([0],C_DOM,color="#777777",strokeWidth=2.2),
    now_line(CH,6),
    axis_layer(C_DOM, yaxis("left",[0,1,2,3,4,5],expr=cloud_expr,title="Altitude (km)",titleX=-101,titleY=CH/2,titleBaseline="middle",titleAlign="center")),
    axis_layer(C_DOM, yaxis("right",[0,1,2,3,4,5],expr=cloud_expr)),
).resolve_scale(y="independent").properties(width=W,height=CH)

legend_x0=[1025,1208,1393,1576,1762]
legend_x1=[1065,1250,1434,1618,1803]
legend_tx=[1069,1254,1438,1622,1807]
s3_layers=[]
for a,b,tx,c,n in zip(legend_x0,legend_x1,legend_tx,cloud_colors,cloud_names):
    s3_layers.append(box(a,b,1262,1295,ORIG_S3,c))
    s3_layers.append(label(n,tx,1294,ORIG_S3,color="#666666"))
s3 = alt.layer(*s3_layers,
    label("Wind speed (10m)",143,1354,ORIG_S3,color="#ff8800"),
    label("Wind gusts",1024,1354,ORIG_S3,color="#f04a00",align="center"),
    label("Wind direction",1884,1354,ORIG_S3,color="#3a8a8a",align="right"),
).properties(width=W,height=129)

# ---------------------------------------------------------------- wind panel
CUR_AXIS = make_x_axis(20)
WH=223
W_DOM=[0,50]
barb_rows=[]
for i,(h0,h1,v1,h2,v2) in enumerate(barbs):
    barb_rows += [{"id":i,"o":0,"h":h0,"v":BARB_LEVEL},{"id":i,"o":1,"h":h1,"v":v1},{"id":i,"o":2,"h":h2,"v":v2}]
barb_df=pd.DataFrame(barb_rows)
wind_panel = alt.layer(
    day_bands(), edges(), midnight_lines(),
    hgrid([10,20,30,40,50],W_DOM,color="#ff6a33",strokeWidth=1.3,strokeDash=[1.5,1.5]),
    *[alt.Chart(pd.DataFrame({"v":[10,20,30,40,50],"a":[s]*5,"b":[e]*5})).mark_rule(color="#111111",strokeWidth=1.4).encode(
        x=X("a"), x2="b:Q", y=Y("v",W_DOM)) for s,e in [(3,6.4),(167.6,171)]],
    *hour_ticks(WH,11,6),
    hgrid([0],W_DOM,color="#333333",strokeWidth=1.6),
    now_line(WH),
    axis_layer(W_DOM, yaxis("left",[0,10,20,30,40,50],title="(km/h)",titleX=-91,titleY=WH/2,titleBaseline="middle",titleAlign="center")),
    axis_layer(W_DOM, yaxis("right",[0,10,20,30,40,50])),
    alt.Chart(series(speed,"v")).mark_line(color="#f58400",strokeWidth=8).encode(x=X(),y=Y("v",W_DOM)),
    alt.Chart(series(gusts,"v")).mark_line(color="#f24a00",strokeWidth=4).encode(x=X(),y=Y("v",W_DOM)),
    alt.Chart(barb_df).mark_line(color="#3a8a8a",strokeWidth=3.5).encode(x=X(),y=Y("v",W_DOM),detail="id:N",order="o:Q"),
    alt.Chart(pd.DataFrame({"h":[b[0] for b in barbs],"v":[BARB_LEVEL]*len(barbs)})).mark_point(shape="circle",size=190,filled=True,color="#3a8a8a",opacity=1).encode(x=X(),y=Y("v",W_DOM)),
).resolve_scale(y="independent").properties(width=W,height=WH)

chart = alt.vconcat(temp_panel,s1,prec_panel,s2,cloud_panel,s3,wind_panel,spacing=0,bounds="flush").properties(
    padding={"left":135,"top":197,"right":156,"bottom":1503},
    autosize=alt.AutoSizeParams(type="none"),
    background=BG,
).configure_view(stroke=None)
chart.save("out.html", embed_options={"renderer":"svg","actions":False})
